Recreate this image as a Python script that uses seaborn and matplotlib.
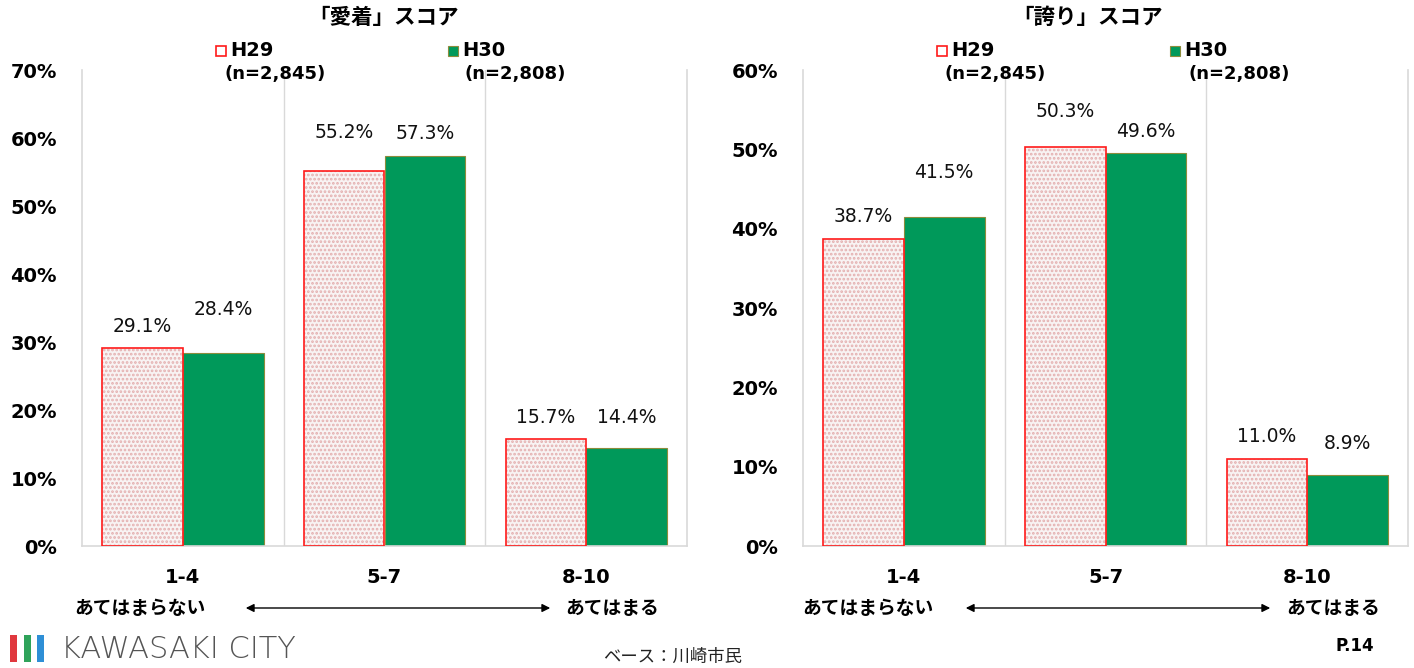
import matplotlib
matplotlib.use("Agg")
import matplotlib.pyplot as plt
import seaborn as sns
import pandas as pd
from matplotlib.patches import Rectangle, FancyArrowPatch

# ---------------- data ----------------
categories = ["1-4", "5-7", "8-10"]
years = ["H29", "H30"]
aichaku_h29 = [29.1, 55.2, 15.7]
aichaku_h30 = [28.4, 57.3, 14.4]
hokori_h29 = [38.7, 50.3, 11.0]
hokori_h30 = [41.5, 49.6, 8.9]
titles = ["「愛着」スコア", "「誇り」スコア"]
n_labels = ["(n=2,845)", "(n=2,808)"]
ymax_list = [70, 60]

# label gaps above bars (pixels), styling only
gaps_left = {"H29": [22, 38, 22], "H30": [43, 23, 31]}
gaps_right = {"H29": [22, 35, 22], "H30": [44, 21, 32]}

sns.set_theme(style="white")
plt.rcParams["font.family"] = ["DejaVu Sans", "Noto Sans CJK JP"]
plt.rcParams["text.color"] = "black"
plt.rcParams["hatch.linewidth"] = 1.3

W, H = 1414, 668
fig = plt.figure(figsize=(W / 100, H / 100), dpi=100)


def fx(px):
    return px / W


def fy(py):
    return 1 - py / H


GREEN = "#00995A"
RED = "#FF1A1A"
GRID = "#D9D9D9"

axes_px = [(82, 687), (803, 1408)]
top_px, bot_px = 70, 546

datasets = [(aichaku_h29, aichaku_h30, gaps_left), (hokori_h29, hokori_h30, gaps_right)]

for i, ((x0, x1), (v29, v30, gaps)) in enumerate(zip(axes_px, datasets)):
    ax = fig.add_axes([fx(x0), fy(bot_px), fx(x1) - fx(x0), fy(top_px) - fy(bot_px)])
    df = pd.DataFrame({
        "cat": categories * 2,
        "year": ["H29"] * 3 + ["H30"] * 3,
        "val": list(v29) + list(v30),
    })
    sns.barplot(data=df, x="cat", y="val", hue="year", hue_order=years,
                palette={"H29": "white", "H30": GREEN}, legend=False, ax=ax,
                width=0.8, saturation=1)
    patches = list(ax.patches)
    h29_bars = patches[:3]
    h30_bars = patches[3:6]
    for p in h29_bars:
        p.set_facecolor("#F8F3F3")
        p.set_edgecolor("#E4AFAF")
        p.set_hatch("....")
        p.set_linewidth(0)
        ax.add_patch(Rectangle(p.get_xy(), p.get_width(), p.get_height(),
                               facecolor="none", edgecolor=RED, linewidth=1.2, zorder=3))
    for p in h30_bars:
        p.set_edgecolor("#8C8C3C")
        p.set_linewidth(0.8)

    for bars, yr in ((h29_bars, "H29"), (h30_bars, "H30")):
        for j, p in enumerate(bars):
            val = p.get_height()
            ax.annotate(f"{val:.1f}%", (p.get_x() + p.get_width() / 2, val),
                        xytext=(0, gaps[yr][j] * 0.72), textcoords="offset points",
                        ha="center", va="center", fontsize=13.5, color="#111111")

    ymax = ymax_list[i]
    ax.set_ylim(0, ymax)
    ax.set_xlim(-0.5, 2.5)
    ax.set_yticks(range(0, ymax + 1, 10))
    ax.set_yticklabels([f"{t}%" for t in range(0, ymax + 1, 10)],
                       fontweight="bold", fontsize=14, color="black")
    ax.set_xticks(range(3))
    ax.set_xticklabels(categories, fontweight="bold", fontsize=14, color="black")
    ax.tick_params(axis="y", length=0, pad=18)
    ax.tick_params(axis="x", length=0, pad=16)
    ax.set_xlabel("")
    ax.set_ylabel("")
    ax.spines["top"].set_visible(False)
    for s in ("left", "right", "bottom"):
        ax.spines[s].set_color(GRID)
        ax.spines[s].set_linewidth(1.2)
    for xv in (0.5, 1.5):
        ax.axvline(xv, color=GRID, linewidth=1.0, zorder=0)

# titles
fig.text(fx(383), fy(18), titles[0], ha="center", va="center", fontsize=15.5, fontweight="bold")
fig.text(fx(1088), fy(18), titles[1], ha="center", va="center", fontsize=15.5, fontweight="bold")

# legends
legend_pos = [((216, 448), (225, 465)), ((937, 1170), (945, 1188))]
for (sq29, sq30), (n29, n30) in legend_pos:
    fig.patches.append(Rectangle((fx(sq29), fy(56)), fx(10), 10 / H, transform=fig.transFigure,
                                 facecolor="white", edgecolor=RED, linewidth=1.2))
    fig.patches.append(Rectangle((fx(sq30), fy(56)), fx(10), 10 / H, transform=fig.transFigure,
                                 facecolor=GREEN, edgecolor="#8C8C3C", linewidth=0.8))
    fig.text(fx(sq29 + 14), fy(50), years[0], ha="left", va="center", fontsize=14, fontweight="bold")
    fig.text(fx(sq30 + 14), fy(50), years[1], ha="left", va="center", fontsize=14, fontweight="bold")
    fig.text(fx(n29), fy(74), n_labels[0], ha="left", va="center", fontsize=13, fontweight="bold")
    fig.text(fx(n30), fy(74), n_labels[1], ha="left", va="center", fontsize=13, fontweight="bold")

# bottom scale descriptions
for left_c, a0, a1, right_c in ((140, 243, 553, 612), (868, 963, 1273, 1333)):
    fig.text(fx(left_c), fy(608), "あてはまらない", ha="center", va="center",
             fontsize=13.5, fontweight="bold")
    fig.text(fx(right_c), fy(608), "あてはまる", ha="center", va="center",
             fontsize=13.5, fontweight="bold")
    fig.add_artist(FancyArrowPatch(
        (fx(a0), fy(608)), (fx(a1), fy(608)), transform=fig.transFigure,
        arrowstyle="<|-|>", mutation_scale=12, color="black", linewidth=1))

# footer
fig.text(fx(673), fy(657), "ベース：川崎市民", ha="center", va="center", fontsize=12.5, color="#222222")
fig.text(fx(1374), fy(646), "P.14", ha="right", va="center", fontsize=12, fontweight="bold")

# logo
for k, c in enumerate(["#E0383E", "#2FA35A", "#2E8FD6"]):
    fig.patches.append(Rectangle((fx(10 + k * 13.5), fy(662)), fx(7), 27 / H,
                                 transform=fig.transFigure, facecolor=c, edgecolor="none"))
fig.text(fx(61), fy(650), "KAWASAKI CITY", ha="left", va="center", fontsize=22,
         color="#555555", fontweight="light")

fig.savefig("out.png", dpi=100)
